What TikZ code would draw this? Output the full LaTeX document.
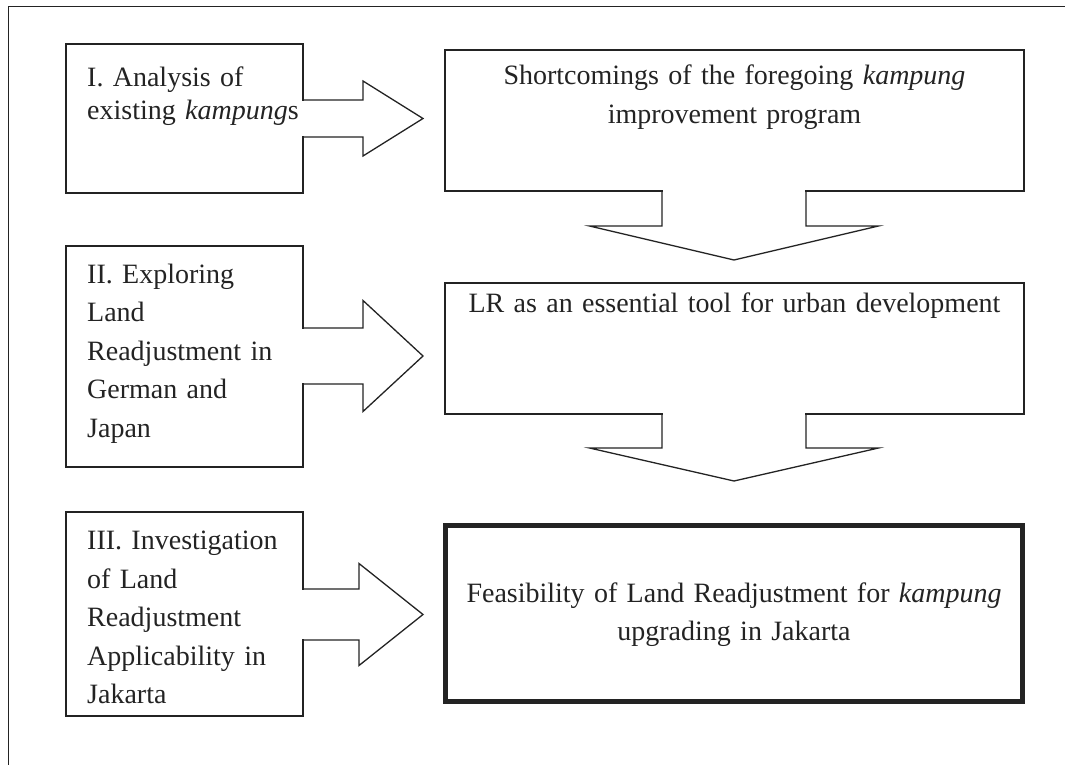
\documentclass[tikz,border=0pt]{standalone}
\usepackage{fontspec}
\setmainfont{Liberation Serif}
\usetikzlibrary{calc}

\definecolor{ink}{HTML}{232323}

\tikzset{
  box/.style={draw=ink, line width=1.3pt, outer sep=0pt, inner sep=0pt, fill=none},
  keybox/.style={draw=ink, line width=5pt, outer sep=0pt, inner sep=0pt},
  flow/.style={draw=ink, line width=1.3pt, line join=miter},
  gap/.style={fill=white},
  lefttext/.style={anchor=base west, inner sep=0pt, text width=215pt, align=left,
    text=ink, font=\fontsize{28}{38.5}\selectfont},
  midtext/.style={anchor=base, inner sep=0pt, text width=570pt, align=center,
    text=ink, font=\fontsize{28}{39}\selectfont},
}

\begin{document}
\begin{tikzpicture}[x=1pt, y=-1pt]
  \useasboundingbox (0,0) rectangle (1065,765);

  % page frame
  \draw[ink, line width=1.3pt] (1065,6.7) -- (8.3,6.7) -- (8.3,765);

  % left column: the three research steps
  \node[box, minimum width=237pt, minimum height=149pt] (b1) at (184.5,118.5) {};
  \node[box, minimum width=237pt, minimum height=221pt] (b2) at (184.5,356.5) {};
  \node[box, minimum width=237pt, minimum height=204pt] (b3) at (184.5,614) {};

  \node[lefttext, font=\fontsize{28}{33}\selectfont] (t1) at ($(b1.north west)+(21,43)$)
    {I. Analysis of\\existing \textit{kampung}s};
  \node[lefttext] (t2) at ($(b2.north west)+(21,37)$)
    {II. Exploring\\Land\\Readjustment in\\German and\\Japan};
  \node[lefttext] (t3) at ($(b3.north west)+(21,37.5)$)
    {III. Investigation\\of Land\\Readjustment\\Applicability in\\Jakarta};

  % right column: findings
  \node[box, minimum width=579pt, minimum height=141pt] (r1) at (734.5,120.5) {};
  \node[box, minimum width=579pt, minimum height=131pt] (r2) at (734.5,348.5) {};
  \node[keybox, minimum width=577pt, minimum height=176pt] (r3) at (734,613.5) {};

  \node[midtext] (s1) at ($(r1.north)+(0,35)$)
    {Shortcomings of the foregoing \textit{kampung}\\improvement program};
  \node[midtext] (s2) at ($(r2.north)+(0,29)$)
    {LR as an essential tool for urban development};
  \node[midtext, font=\fontsize{28}{38}\selectfont] (s3) at ($(r3.north)+(0,76.5)$)
    {Feasibility of Land Readjustment for \textit{kampung}\\upgrading in Jakarta};

  % block arrows from the left boxes
  \coordinate (p1) at (423,118.5);
  \coordinate (p2) at (423,356);
  \coordinate (p3) at (423,614.5);

  \fill[gap] ($(b1.east|-p1)+(-1.5,-17.8)$) rectangle ($(b1.east|-p1)+(1.5,17.8)$);
  \draw[flow] ($(b1.east|-p1)+(0,-18.5)$) -- ++(60,0) -- ++(0,-19) -- (p1)
    -- ++(-60,37.5) -- ++(0,-19) -- ++(-60,0);

  \fill[gap] ($(b2.east|-p2)+(-1.5,-27.3)$) rectangle ($(b2.east|-p2)+(1.5,27.3)$);
  \draw[flow] ($(b2.east|-p2)+(0,-28)$) -- ++(60,0) -- ++(0,-27.5) -- (p2)
    -- ++(-60,55.5) -- ++(0,-27.5) -- ++(-60,0);

  \fill[gap] ($(b3.east|-p3)+(-1.5,-24.8)$) rectangle ($(b3.east|-p3)+(1.5,24.8)$);
  \draw[flow] ($(b3.east|-p3)+(0,-25.5)$) -- ++(56,0) -- ++(0,-25.5) -- (p3)
    -- ++(-64,51) -- ++(0,-25.5) -- ++(-56,0);

  % block arrows down the right column
  \coordinate (q1) at (734,260);
  \coordinate (q2) at (734,481);

  \fill[gap] ($(r1.south-|q1)+(-71.3,-1.5)$) rectangle ($(r1.south-|q1)+(71.3,1.5)$);
  \draw[flow] ($(r1.south-|q1)+(-72,0)$) -- ++(0,35) -- ++(-72.5,0) -- (q1)
    -- ++(144.5,-34) -- ++(-72.5,0) -- ++(0,-35);

  \fill[gap] ($(r2.south-|q2)+(-71.3,-1.5)$) rectangle ($(r2.south-|q2)+(71.3,1.5)$);
  \draw[flow] ($(r2.south-|q2)+(-72,0)$) -- ++(0,34) -- ++(-72.5,0) -- (q2)
    -- ++(144.5,-33) -- ++(-72.5,0) -- ++(0,-34);
\end{tikzpicture}
\end{document}
